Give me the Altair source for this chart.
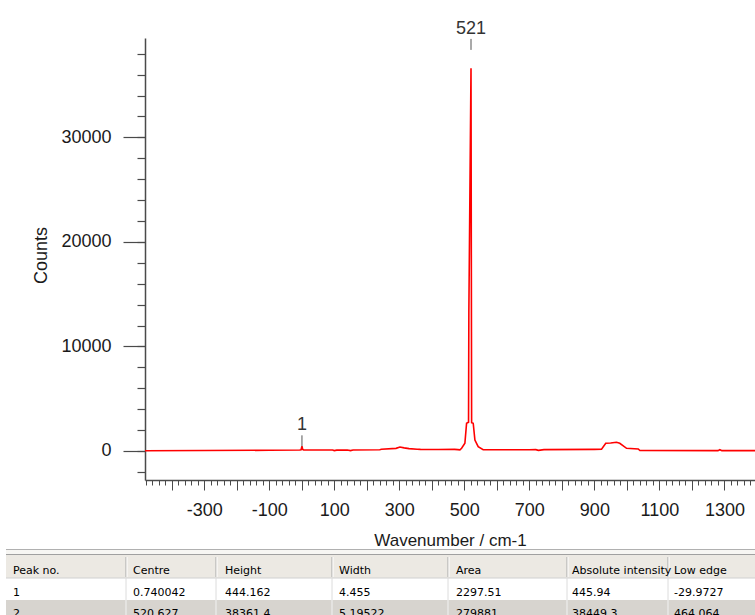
import altair as alt
import pandas as pd

# ---------------- data ----------------
wavenumber = [-482, -300, -100, -6, -2, 0.74, 3, 6, 95, 100, 108, 140, 150, 158,
              240, 245, 290, 302, 315, 330, 355, 365, 420, 470, 480, 486.5, 491.7,
              501.8, 507, 513, 514, 520.6, 522, 522.5, 527.4, 532.6, 542.7, 558,
              700, 720, 728, 745, 900, 922, 935, 950, 968, 978, 999, 1035, 1040,
              1280, 1286, 1292, 1394]
counts = [20, 40, 70, 90, 120, 450, 150, 90, 90, 40, 80, 90, 40, 90,
          120, 160, 250, 380, 300, 230, 170, 150, 140, 150, 130, 110, 260,
          740, 2650, 2750, 13300, 36600, 11400, 2700, 2650, 1050, 410, 120,
          120, 130, 60, 130, 150, 160, 736, 760, 830, 736, 258, 190, 40,
          30, 120, 30, 30]

peak_tag = ["1", "521"]
peak_no = [1, 2]
peak_centre = [0.740042, 520.627]
peak_height = [444.162, 38361.4]
peak_width = [4.455, 5.19522]
peak_area = [2297.51, 279881]
peak_abs = [445.94, 38449.3]
peak_low = [-29.9727, 464.064]

table_header = ["Peak no.", "Centre", "Height", "Width", "Area",
                "Absolute intensity", "Low edge"]

x_domain = [-482, 1394]
y_domain = [-2775, 39500]
x_major = list(range(-400, 1301, 100))
x_minor = list(range(-480, 1381, 20))
y_major = [0, 10000, 20000, 30000]
y_minor = list(range(-2000, 38001, 2000))

# ---------------- layout (pixels) ----------------
W, H = 755, 615
PL, PR, PT, PB = 145, 755, 38, 480
FONT = "Liberation Sans"
TFONT = "DejaVu Sans"
AXIS = "#4a4a4a"
TXT = "#1a1a1a"

COL_TEXT_X = [13, 133, 225, 339, 456, 572, 674]
COL_SEP_X = [126, 216, 332, 448, 567, 668]
ROW_BASE = [574, 596, 617]
TBL_LEFT = 6

spec_df = pd.DataFrame({"wn": wavenumber, "counts": counts})
peaks_df = pd.DataFrame({"centre": peak_centre, "height": peak_height, "tag": peak_tag})

XS = alt.Scale(domain=x_domain, range=[PL, PR], nice=False, zero=False)
YS = alt.Scale(domain=y_domain, range=[PB, PT], nice=False, zero=False)
TX = alt.Scale(domain=[0, W], range=[0, W], nice=False, zero=False)
TY = alt.Scale(domain=[0, H], range=[0, H], nice=False, zero=False)

common = dict(grid=False, domainColor=AXIS, tickColor=AXIS, labelColor=TXT,
              titleColor=TXT, labelFont=FONT, titleFont=FONT, labelFontSize=18,
              titleFontWeight="normal", labelFlush=False, labelOverlap=False)

line = alt.Chart(spec_df).mark_line(color="#ff0000", strokeWidth=1.6).encode(
    x=alt.X("wn:Q", scale=XS, axis=alt.Axis(
        orient="bottom", offset=-(H - PB), values=x_major, tickSize=10,
        labelPadding=11, tickWidth=1, domainWidth=1.5,
        labelExpr="datum.value % 200 === 0 ? '' : '' + datum.value",
        title="Wavenumber / cm-1", titleFontSize=17, titlePadding=13, **common)),
    y=alt.Y("counts:Q", scale=YS, axis=alt.Axis(
        orient="left", offset=-PL, values=y_major, tickSize=22, labelPadding=12,
        tickWidth=1.2, domainWidth=1.5, format="d", title="Counts",
        titleFontSize=18, titlePadding=10, titleY=255, **common)),
)

minor = alt.Chart(spec_df).mark_point(opacity=0).encode(
    x=alt.X("wn:Q", scale=XS, axis=alt.Axis(
        orient="bottom", offset=-(H - PB), values=x_minor, tickSize=5,
        labels=False, domain=False, grid=False, tickColor=AXIS, tickWidth=1,
        title=None)),
    y=alt.Y("counts:Q", scale=YS, axis=alt.Axis(
        orient="left", offset=-PL, values=y_minor, tickSize=8,
        labels=False, domain=False, grid=False, tickColor=AXIS, tickWidth=1.2,
        title=None)),
)

marker = alt.Chart(peaks_df).mark_rule(color="#555555", strokeWidth=1, y2Offset=-11).encode(
    x=alt.X("centre:Q", scale=XS, axis=None),
    y=alt.Y("height:Q", scale=YS, axis=None),
    y2=alt.Y2("height:Q"),
)

tag = alt.Chart(peaks_df).mark_text(font=FONT, fontSize=18, color="#333333",
                                    baseline="alphabetic", dy=-16).encode(
    x=alt.X("centre:Q", scale=XS, axis=None),
    y=alt.Y("height:Q", scale=YS, axis=None),
    text="tag:N",
)

# ---------------- table ----------------
row1 = [str(peak_no[0]), str(peak_centre[0]), str(peak_height[0]), str(peak_width[0]),
        str(peak_area[0]), str(peak_abs[0]), str(peak_low[0])]
row2 = [str(peak_no[1]), str(peak_centre[1]), str(peak_height[1]), str(peak_width[1]),
        str(peak_area[1]), str(peak_abs[1]), str(peak_low[1])]

bands = pd.DataFrame({
    "x": [TBL_LEFT, TBL_LEFT, TBL_LEFT, TBL_LEFT],
    "x2": [W, W, W, W],
    "y": [549, 555, 578, 600],
    "y2": [555, 578, 600, H],
    "fill": ["#f7f6f3", "#ece9e3", "#ffffff", "#d7d4cf"],
})
hlines = pd.DataFrame({
    "x": [TBL_LEFT, TBL_LEFT, TBL_LEFT],
    "x2": [W, W, W],
    "y": [549.5, 554.5, 578],
    "c": ["#b0b0b0", "#a0a0a0", "#d0d0d0"],
})
vl = []
for sx in COL_SEP_X:
    vl.append({"x": sx, "y": 557, "y2": 577, "c": "#a6a6a6"})
    vl.append({"x": sx + 1, "y": 557, "y2": 577, "c": "#ffffff"})
    vl.append({"x": sx, "y": 578, "y2": 600, "c": "#dcdcdc"})
    vl.append({"x": sx, "y": 600, "y2": H, "c": "#f2f2f2"})
vlines = pd.DataFrame(vl)

cells = []
for r, row in enumerate([table_header, row1, row2]):
    for c, t in enumerate(row):
        cells.append({"x": COL_TEXT_X[c], "y": ROW_BASE[r], "t": t})
cells_df = pd.DataFrame(cells)

t_bands = alt.Chart(bands).mark_rect().encode(
    x=alt.X("x:Q", scale=TX, axis=None), x2="x2:Q",
    y=alt.Y("y:Q", scale=TY, axis=None), y2="y2:Q",
    color=alt.Color("fill:N", scale=None),
)
t_h = alt.Chart(hlines).mark_rule(strokeWidth=1).encode(
    x=alt.X("x:Q", scale=TX, axis=None), x2="x2:Q",
    y=alt.Y("y:Q", scale=TY, axis=None),
    color=alt.Color("c:N", scale=None),
)
t_v = alt.Chart(vlines).mark_rule(strokeWidth=1).encode(
    x=alt.X("x:Q", scale=TX, axis=None),
    y=alt.Y("y:Q", scale=TY, axis=None), y2="y2:Q",
    color=alt.Color("c:N", scale=None),
)
t_text = alt.Chart(cells_df).mark_text(font=TFONT, fontSize=11, color="#000000",
                                       align="left", baseline="alphabetic").encode(
    x=alt.X("x:Q", scale=TX, axis=None),
    y=alt.Y("y:Q", scale=TY, axis=None),
    text="t:N",
)

chart = alt.layer(
    t_bands, t_h, t_v, t_text, line, minor, marker, tag
).resolve_scale(
    x="independent", y="independent"
).properties(
    width=W, height=H, autosize=alt.AutoSizeParams(type="none"), padding=0,
    background="white",
).configure_view(strokeWidth=0)

chart.save("out.html", embed_options={"renderer": "svg", "actions": False})
